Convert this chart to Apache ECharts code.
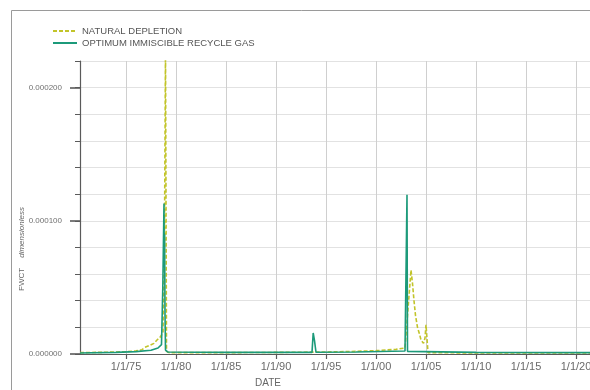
<!DOCTYPE html>
<html>
<head>
<meta charset="utf-8">
<script src="https://cdn.jsdelivr.net/npm/echarts@6/dist/echarts.min.js"></script>
<style>
  html, body { margin: 0; padding: 0; background: #fff; }
  #chart { width: 590px; height: 390px; }
</style>
</head>
<body>
<div id="chart"></div>
<script>
// Series names
const seriesNames = ['NATURAL DEPLETION', 'OPTIMUM IMMISCIBLE RECYCLE GAS'];

// Decimal-year dates and FWCT values, natural depletion case
const ndYears = [1970.4, 1973, 1975, 1976, 1976.6, 1976.9, 1977.4, 1977.8, 1978.1, 1978.4, 1978.7,
  1978.85, 1978.95, 1979.05, 1979.3, 1985, 1990, 1995, 1998, 2000, 2002, 2002.9, 2003.1,
  2003.5, 2003.65, 2003.8, 2003.95, 2004.15, 2004.35, 2004.5, 2004.75, 2004.9, 2005.0,
  2005.15, 2005.2, 2010, 2021.4];
const ndValues = [0.0000010, 0.0000013, 0.0000017, 0.0000024, 0.0000032, 0.0000050, 0.0000065,
  0.0000080, 0.0000105, 0.0000125, 0.0000160, 0.0000900, 0.0002300, 0.0000020, 0.0000010,
  0.0000010, 0.0000012, 0.0000015, 0.0000020, 0.0000025, 0.0000035, 0.0000045, 0.0000060,
  0.0000630, 0.0000530, 0.0000400, 0.0000290, 0.0000200, 0.0000150, 0.0000105, 0.0000080,
  0.0000120, 0.0000220, 0.0000230, 0.0000010, 0.0000008, 0.0000008];

// Decimal-year dates and FWCT values, optimum immiscible recycle gas case
const oirgYears = [1970.4, 1974, 1976, 1977.5, 1978.2, 1978.55, 1978.68, 1978.75, 1978.8, 1978.83,
  1978.86, 1978.9, 1978.95, 1979.2, 1985, 1993.6, 1993.72, 1993.85, 1994.0, 1998, 2002.9,
  2003.05, 2003.1, 2003.15, 2010, 2021.4];
const oirgValues = [0.0000008, 0.0000012, 0.0000018, 0.0000028, 0.0000045, 0.0000070, 0.0000500,
  0.0000870, 0.0001130, 0.0000650, 0.0000900, 0.0000300, 0.0000030, 0.0000015, 0.0000012,
  0.0000012, 0.0000158, 0.0000100, 0.0000013, 0.0000015, 0.0000022, 0.0000025, 0.0001195,
  0.0000020, 0.0000012, 0.0000010];

// Axis ticks
const xTickYears = [1975, 1980, 1985, 1990, 1995, 2000, 2005, 2010, 2015, 2020];
const yMinorTicks = [0, 0.00002, 0.00004, 0.00006, 0.00008, 0.0001, 0.00012, 0.00014, 0.00016, 0.00018, 0.0002, 0.00022];
const yMajorTicks = [0, 0.0001, 0.0002];

const pairs = (xs, ys) => xs.map((x, i) => [x, ys[i]]);
const dateLabel = (y) => '1/1/' + String(Math.round(y) % 100).padStart(2, '0');

const chart = echarts.init(document.getElementById('chart'), null, { renderer: 'canvas' });
const axisGray = '#5a5a5a';
const labelFont = 'Liberation Sans, Arial, sans-serif';
const ndColor = '#c2c42a';
const oirgColor = '#1c9a7a';

chart.setOption({
  animation: false,
  backgroundColor: '#fff',
  grid: { left: 80, right: 0, top: 61, bottom: 36, containLabel: false, outerBoundsMode: 'none' },
  legend: {
    orient: 'vertical',
    left: 47,
    top: 21,
    itemWidth: 24,
    itemHeight: 10,
    itemGap: 2,
    data: seriesNames,
    itemStyle: { opacity: 0 },
    textStyle: { fontSize: 9.5, color: '#555', fontFamily: labelFont }
  },
  xAxis: {
    type: 'value',
    min: 1970.4,
    max: 2021.4,
    axisLine: { show: true, lineStyle: { color: axisGray, width: 1.2 } },
    axisTick: { show: true, length: 5, customValues: xTickYears, lineStyle: { color: axisGray, width: 1.2 } },
    axisLabel: {
      customValues: xTickYears,
      formatter: dateLabel,
      fontSize: 11, color: '#6a6a6a', fontFamily: labelFont, margin: 7
    },
    splitLine: { show: true, lineStyle: { color: '#cfcfcf', width: 1 } }
  },
  yAxis: [
    {
      type: 'value', min: 0, max: 0.00022, position: 'left',
      axisLine: { show: true, lineStyle: { color: axisGray, width: 1.2 } },
      axisTick: { show: true, length: 5, customValues: yMinorTicks, lineStyle: { color: axisGray, width: 1 } },
      axisLabel: { show: false, customValues: yMinorTicks },
      splitLine: { show: true, lineStyle: { color: '#e2e2e2', width: 1 } }
    },
    {
      type: 'value', min: 0, max: 0.00022, position: 'left', offset: 0,
      axisLine: { show: false },
      axisTick: { show: true, length: 10, customValues: yMajorTicks, lineStyle: { color: axisGray, width: 1.6 } },
      axisLabel: {
        customValues: yMajorTicks,
        formatter: (v) => v.toFixed(6),
        fontSize: 8, color: '#707070', fontFamily: labelFont, margin: 18
      },
      splitLine: { show: false }
    }
  ],
  series: [
    {
      name: seriesNames[0],
      type: 'line',
      data: pairs(ndYears, ndValues),
      symbol: 'none',
      clip: true,
      lineStyle: { color: ndColor, width: 1.6, type: [4, 2] },
      itemStyle: { color: ndColor }
    },
    {
      name: seriesNames[1],
      type: 'line',
      data: pairs(oirgYears, oirgValues),
      symbol: 'none',
      clip: true,
      lineStyle: { color: oirgColor, width: 1.6 },
      itemStyle: { color: oirgColor }
    }
  ],
  graphic: [
    {
      type: 'rect',
      shape: { x: 11.5, y: 10.5, width: 620, height: 420 },
      style: { fill: 'none', stroke: '#9a9a9a', lineWidth: 1 },
      silent: true
    },
    {
      type: 'text',
      x: 268, y: 383,
      style: { text: 'DATE', fontSize: 10, fill: '#666', fontFamily: labelFont, textAlign: 'center', textVerticalAlign: 'middle' },
      silent: true
    },
    {
      type: 'text',
      x: 22, y: 249,
      rotation: Math.PI / 2,
      style: {
        text: '{a|FWCT}   {b|dimensionless}',
        textAlign: 'center', textVerticalAlign: 'middle',
        rich: {
          a: { fontSize: 8, fill: '#666', fontFamily: labelFont },
          b: { fontSize: 8, fill: '#666', fontFamily: labelFont, fontStyle: 'italic' }
        }
      },
      silent: true
    }
  ]
});
</script>
</body>
</html>
